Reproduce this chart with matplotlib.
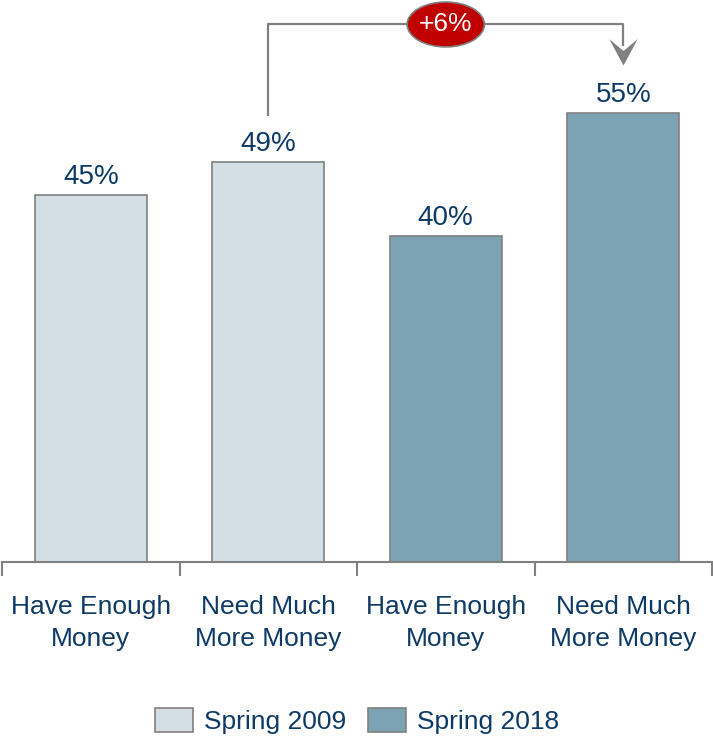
import numpy as np
import matplotlib.pyplot as plt
from matplotlib.patches import Ellipse, Patch
from matplotlib.path import Path

plt.rcParams['font.family'] = ['Liberation Sans', 'DejaVu Sans']

# Survey results
categories = ['Have Enough\nMoney', 'Need Much\nMore Money',
              'Have Enough\nMoney', 'Need Much\nMore Money']
values = [45, 49, 40, 55]
periods = ['Spring 2009', 'Spring 2009', 'Spring 2018', 'Spring 2018']
change_label = '+6%'

light = '#D3DFE5'
dark = '#7BA3B3'
edge = '#808080'
txt = '#0E3A66'
colors = {'Spring 2009': light, 'Spring 2018': dark}

fig = plt.figure(figsize=(7.13, 7.38), dpi=100)
ax = fig.add_axes([2 / 713, 176 / 738, 710 / 713, 562 / 738])

x = np.arange(len(values))
ax.bar(x, values, width=0.63, color=[colors[p] for p in periods],
       edgecolor=edge, linewidth=1.2, zorder=2)

for xi, v in zip(x, values):
    ax.text(xi, v + 0.6, f'{v}%', ha='center', va='bottom',
            fontsize=20, color=txt)

ax.set_xlim(-0.5, 3.5)
ax.set_ylim(0, 68.9)

# axis line with group separators
for s in ['top', 'right', 'left']:
    ax.spines[s].set_visible(False)
ax.spines['bottom'].set_color(edge)
ax.spines['bottom'].set_linewidth(1.5)
ax.set_yticks([])
ax.set_xticks(np.arange(-0.5, 4, 1.0))
ax.set_xticklabels([])
ax.tick_params(axis='x', length=10, width=1.5, color=edge)
for xi, lab in zip(x, categories):
    ax.text(xi, -4.1, lab, ha='center', va='top', fontsize=19,
            color=txt, linespacing=1.38)

# change bracket from 2009 to 2018 "need much more"
y_top = 66
tip = 60.9
ax.plot([1, 1, 3, 3], [54.8, y_top, y_top, tip + 2.5], color=edge, lw=1.6,
        clip_on=False, zorder=3)
# notched arrow head, tip at the marker origin
head = Path([(0, 0), (-0.54, 1), (0, 0.55), (0.54, 1), (0, 0)],
            [Path.MOVETO, Path.LINETO, Path.LINETO, Path.LINETO, Path.CLOSEPOLY])
ax.plot([3], [tip], marker=head, markersize=38, color=edge,
        markeredgewidth=0, clip_on=False, zorder=3)
ax.add_patch(Ellipse((2, y_top - 0.1), 0.435, 5.5, facecolor='#C00000',
                     edgecolor=edge, lw=1.2, zorder=4, clip_on=False))
ax.text(2, y_top - 0.1, change_label, ha='center', va='center', fontsize=19,
        color='white', zorder=5)

handles = [Patch(facecolor=light, edgecolor=edge, lw=1.2, label='Spring 2009'),
           Patch(facecolor=dark, edgecolor=edge, lw=1.2, label='Spring 2018')]
fig.legend(handles=handles, loc='center', bbox_to_anchor=(357 / 713, 17 / 738),
           ncol=2, frameon=False, fontsize=19, handlelength=1.44,
           handleheight=1.06, columnspacing=0.8, handletextpad=0.42,
           labelcolor=txt)

fig.savefig('out.png', dpi=100)
